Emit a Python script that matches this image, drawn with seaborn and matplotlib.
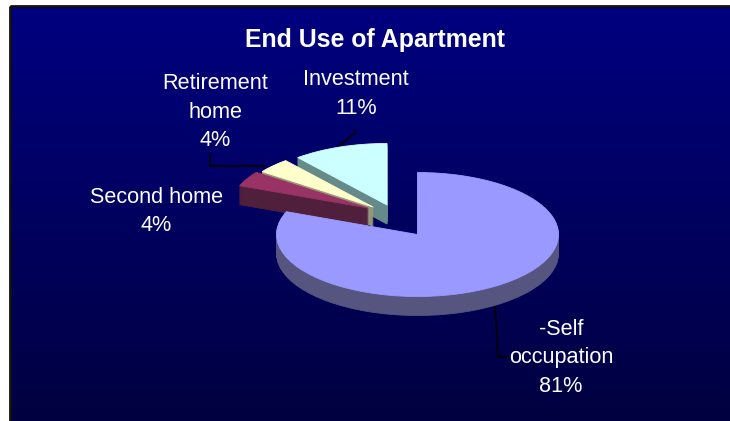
import numpy as np
import matplotlib
matplotlib.use("Agg")
import matplotlib.pyplot as plt
import seaborn as sb
from matplotlib.colors import LinearSegmentedColormap
from matplotlib.patches import Rectangle

categories = ["-Self\noccupation", "Second home", "Retirement\nhome", "Investment"]
shares = [81, 4, 4, 11]
top_colors = ["#9999FF", "#993366", "#FFFFCC", "#CCFFFF"]
side_colors = ["#55557F", "#4F1F3C", "#99997A", "#668A8A"]
title = "End Use of Apartment"

sb.set_theme(style="white")
plt.rcParams['font.family'] = ['Liberation Sans', 'DejaVu Sans']

W, H = 730, 421
fig = plt.figure(figsize=(W / 100, H / 100), dpi=100, facecolor="white")

# background + texts, pixel coordinates of the picture
bg = fig.add_axes([0, 0, 1, 1])
cmap = LinearSegmentedColormap.from_list("navy", ["#000080", "#000040"])
bg.imshow(np.linspace(0, 1, 256).reshape(-1, 1), cmap=cmap, extent=(10, W, H, 6), aspect="auto", zorder=0)
bg.set_xlim(0, W)
bg.set_ylim(H, 0)
bg.axis("off")
bg.add_patch(Rectangle((10, 6), W, H, fill=False, ec="#111111", lw=2, zorder=1))

# leader lines
bg.plot([210, 210, 265], [154, 166, 166], color="black", lw=1.2, zorder=2)
bg.plot([355, 355, 339], [130, 133, 146], color="black", lw=1.2, zorder=2)
bg.plot([495, 498, 507], [305, 357, 357], color="black", lw=1.2, zorder=2)

bg.text(375, 40, title, color="white", fontsize=17.9, fontweight="bold", ha="center", va="center")
label_pos = [(561, 358), (156.5, 211.5), (215, 112), (356, 94)]
for cat, share, (tx, ty) in zip(categories, shares, label_pos):
    bg.text(tx, ty, f"{cat}\n{share}%", color="white", fontsize=15.6, ha="center", va="center",
            linespacing=1.45, zorder=3)

# pie is squashed through the axes scale to look tilted
squash = 62 / 141
ax = fig.add_axes([0, 0, 1, 1], facecolor="none")
centers = [(417.5, 234.5), (368, 208), (373, 207), (387, 205)]
radii = [141, 138, 137, 140]
ranks = [4, 3, 2, 1]
depth = 19

for d in range(depth, -1, -1):
    colors = top_colors if d == 0 else side_colors
    wedges, _ = ax.pie(shares, radius=141, startangle=90, counterclock=False, colors=colors,
                       wedgeprops={"linewidth": 0}, frame=True)
    for w, (cx, cy), rad, r in zip(wedges, centers, radii, ranks):
        w.set_center((cx, (H - cy - d) / squash))
        w.set_radius(rad)
        w.set_zorder(r * 100 + depth - d)
        # thin tips of the layers let the colour below show through otherwise
        w.set_edgecolor(w.get_facecolor())
        w.set_linewidth(0.6)
        w.set_joinstyle("round")

ax.set_aspect("auto")
ax.set_xlim(0, W)
ax.set_ylim(0, H / squash)
ax.axis("off")

fig.savefig("out.png", dpi=100)
